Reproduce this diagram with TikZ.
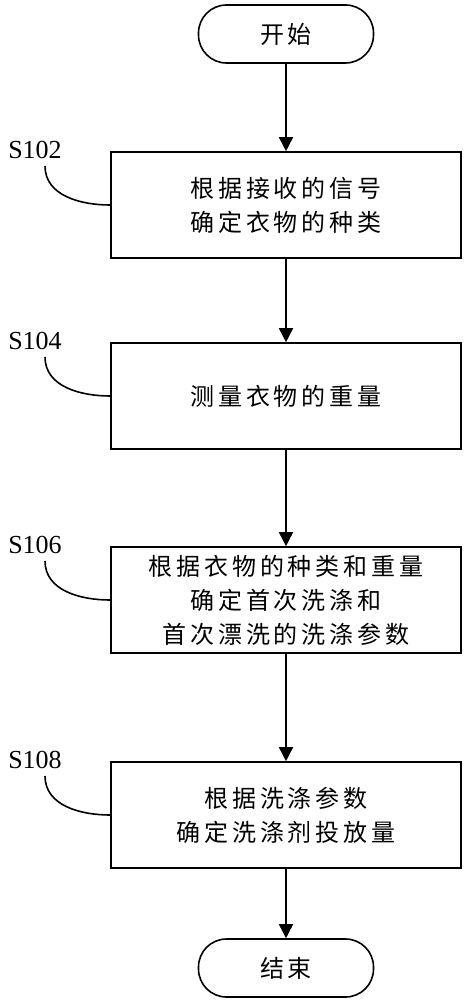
\documentclass[tikz,border=0pt]{standalone}
\usepackage{fontspec}
\setmainfont{Liberation Serif}
\newfontfamily\cjk[LetterSpace=16]{Noto Sans CJK SC}
\usetikzlibrary{arrows.meta}
\begin{document}
\begin{tikzpicture}[x=1pt,y=-1pt]
  \tikzstyle{etape}=[draw=black, line width=1.6pt, minimum width=350pt,
  minimum height=106pt, align=center, text centered,
  font=\cjk\fontsize{24}{34}\selectfont]
  \tikzstyle{terminal}=[draw=black, line width=1.6pt, rounded corners=28pt,
  minimum width=175pt, minimum height=58pt,
  font=\cjk\fontsize{24}{34}\selectfont]
  \tikzstyle{etiquette}=[font=\fontsize{26}{30}\selectfont, inner sep=1pt]
  \tikzstyle{fleche}=[-{Triangle[length=14pt,width=14pt]}, line width=1.6pt]
  \tikzstyle{renvoi}=[line width=1.6pt]
  \useasboundingbox (0,0) rectangle (465,1000);
  \node[terminal] (debut) at (286,34) {开始};
  \foreach \n/\y/\t in {102/205/{根据接收的信号\\确定衣物的种类},
    104/396/{测量衣物的重量},
    106/600/{根据衣物的种类和重量\\确定首次洗涤和\\首次漂洗的洗涤参数},
    108/815/{根据洗涤参数\\确定洗涤剂投放量}} {
    \node[etape] (s\n) at (286,\y) {\t};
    \node[etiquette] (l\n) at (35,\y-55) {S\n};
    \draw[renvoi] ([xshift=10pt,yshift=-6pt]l\n.south) to[out=-90,in=180] (s\n.west);
  }
  \node[terminal] (fin) at (286,968) {结束};
  \draw[fleche] (debut) -- (s102);
  \foreach \a/\b in {s102/s104,s104/s106,s106/s108,s108/fin} {
    \draw[fleche] (\a) -- (\b);
  }
\end{tikzpicture}
\end{document}
